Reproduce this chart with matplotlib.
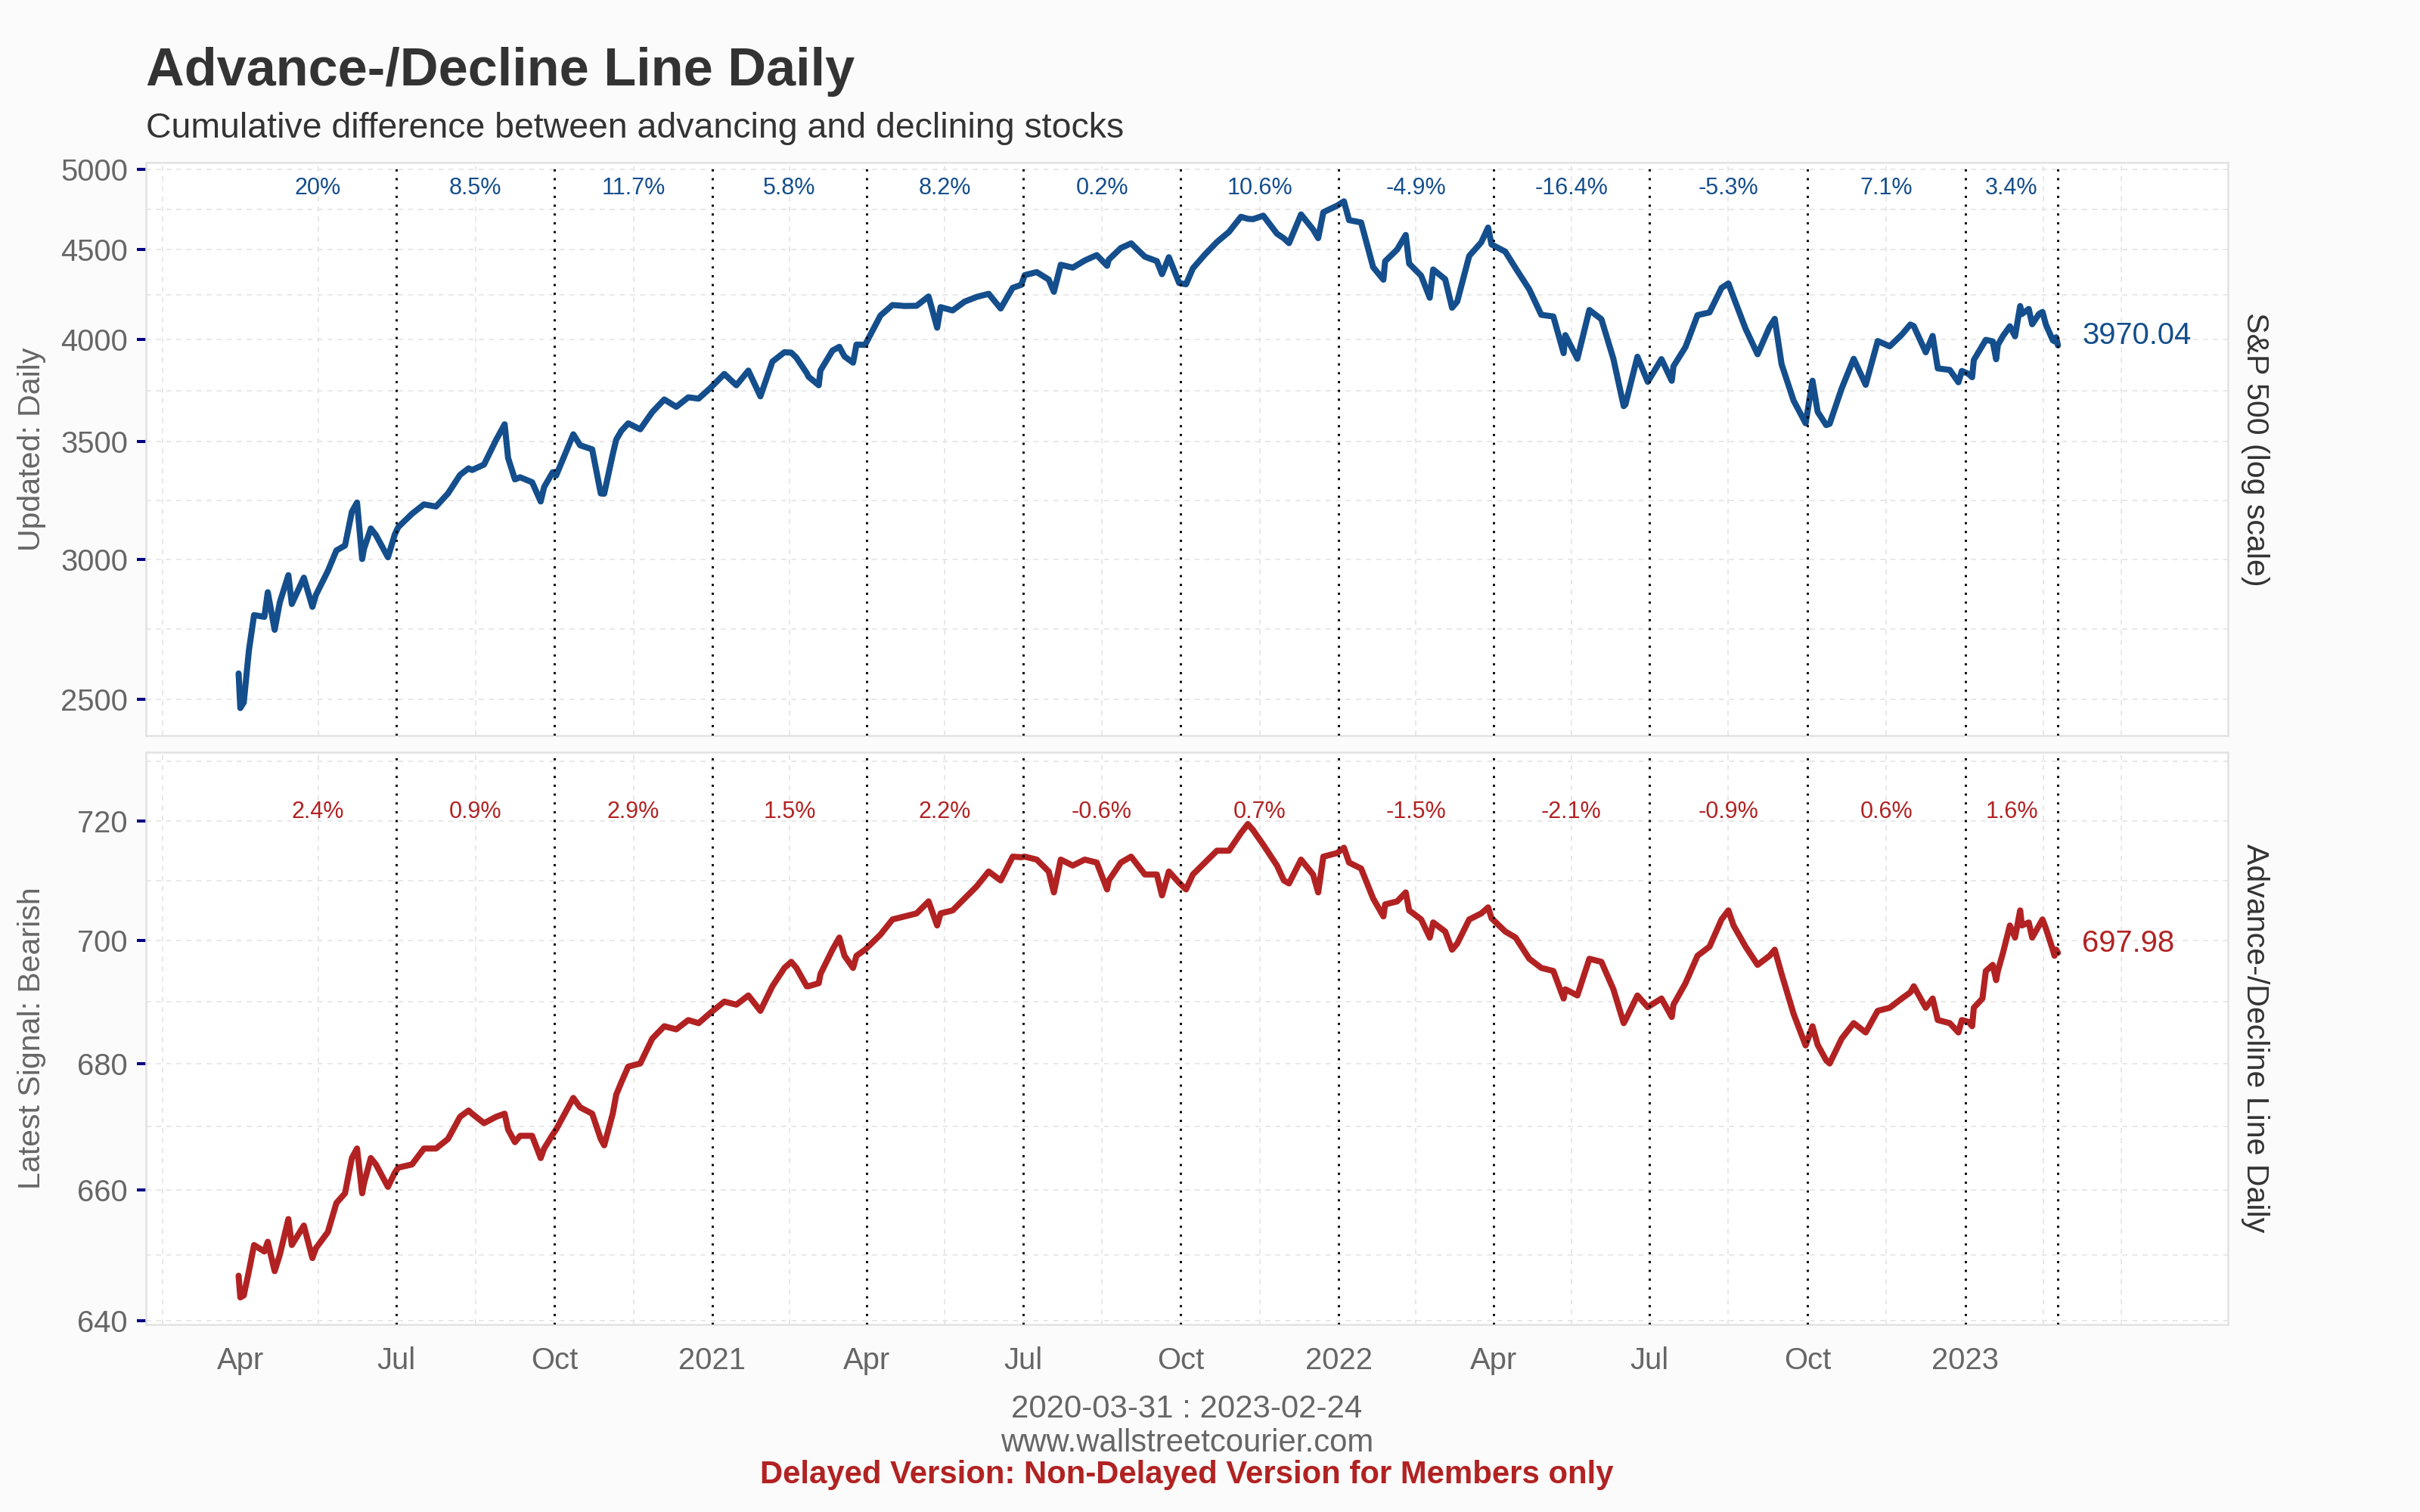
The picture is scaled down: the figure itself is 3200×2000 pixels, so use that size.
import matplotlib
matplotlib.use("Agg")
import matplotlib.pyplot as plt
import matplotlib.dates as mdates
import matplotlib.transforms as mtrans
from matplotlib.ticker import FixedLocator, NullLocator, FixedFormatter
import numpy as np
import pandas as pd

plt.rcParams['font.family'] = ['Liberation Sans', 'DejaVu Sans']

# ---------------- data ----------------
dates = [
    "2020-03-31", "2020-04-01", "2020-04-03", "2020-04-06", "2020-04-09", "2020-04-15", "2020-04-17",
    "2020-04-21", "2020-04-24", "2020-04-29", "2020-05-01", "2020-05-08", "2020-05-13", "2020-05-15",
    "2020-05-22", "2020-05-27", "2020-06-01", "2020-06-05", "2020-06-08", "2020-06-11", "2020-06-12",
    "2020-06-16", "2020-06-19", "2020-06-26", "2020-06-30", "2020-07-02", "2020-07-10", "2020-07-17",
    "2020-07-24", "2020-07-31", "2020-08-07", "2020-08-12", "2020-08-14", "2020-08-21", "2020-08-28",
    "2020-09-02", "2020-09-04", "2020-09-08", "2020-09-11", "2020-09-18", "2020-09-23", "2020-09-25",
    "2020-09-30", "2020-10-02", "2020-10-09", "2020-10-12", "2020-10-16", "2020-10-23", "2020-10-28",
    "2020-10-30", "2020-11-04", "2020-11-06", "2020-11-09", "2020-11-13", "2020-11-20", "2020-11-27",
    "2020-12-04", "2020-12-11", "2020-12-18", "2020-12-24", "2020-12-31",
    "2021-01-08", "2021-01-15", "2021-01-22", "2021-01-29", "2021-02-05", "2021-02-12", "2021-02-16",
    "2021-02-19", "2021-02-25", "2021-02-26", "2021-03-04", "2021-03-05", "2021-03-12", "2021-03-16",
    "2021-03-19", "2021-03-24", "2021-03-26", "2021-03-31", "2021-04-09", "2021-04-16", "2021-04-23",
    "2021-04-30", "2021-05-07", "2021-05-12", "2021-05-14", "2021-05-21", "2021-05-28", "2021-06-04",
    "2021-06-11", "2021-06-18", "2021-06-25", "2021-06-30", "2021-07-02", "2021-07-09", "2021-07-16",
    "2021-07-19", "2021-07-23", "2021-07-30", "2021-08-06", "2021-08-13", "2021-08-19", "2021-08-20",
    "2021-08-27", "2021-09-02", "2021-09-10", "2021-09-17", "2021-09-20", "2021-09-24", "2021-09-30",
    "2021-10-04", "2021-10-08", "2021-10-15", "2021-10-22", "2021-10-29", "2021-11-05", "2021-11-09",
    "2021-11-12", "2021-11-18", "2021-11-26", "2021-11-30", "2021-12-03", "2021-12-10", "2021-12-17",
    "2021-12-20", "2021-12-23", "2021-12-31",
    "2022-01-04", "2022-01-07", "2022-01-14", "2022-01-21", "2022-01-27", "2022-01-28", "2022-02-04",
    "2022-02-09", "2022-02-11", "2022-02-18", "2022-02-23", "2022-02-25", "2022-03-04", "2022-03-08",
    "2022-03-11", "2022-03-18", "2022-03-25", "2022-03-29", "2022-03-31", "2022-04-08", "2022-04-14",
    "2022-04-22", "2022-04-29", "2022-05-06", "2022-05-12", "2022-05-13", "2022-05-20", "2022-05-27",
    "2022-06-03", "2022-06-10", "2022-06-16", "2022-06-17", "2022-06-24", "2022-06-30", "2022-07-08",
    "2022-07-14", "2022-07-15", "2022-07-22", "2022-07-29", "2022-08-05", "2022-08-12", "2022-08-16",
    "2022-08-19", "2022-08-26", "2022-09-02", "2022-09-09", "2022-09-12", "2022-09-16", "2022-09-23",
    "2022-09-30", "2022-10-04", "2022-10-07", "2022-10-12", "2022-10-14", "2022-10-21", "2022-10-28",
    "2022-11-04", "2022-11-11", "2022-11-18", "2022-11-25", "2022-11-30", "2022-12-02", "2022-12-09",
    "2022-12-13", "2022-12-16", "2022-12-23", "2022-12-28", "2022-12-30",
    "2023-01-03", "2023-01-05", "2023-01-06", "2023-01-11", "2023-01-13", "2023-01-17", "2023-01-19",
    "2023-01-20", "2023-01-23", "2023-01-27", "2023-01-30", "2023-02-02", "2023-02-03", "2023-02-07",
    "2023-02-09", "2023-02-13", "2023-02-15", "2023-02-17", "2023-02-21", "2023-02-22", "2023-02-23",
    "2023-02-24",
]

spx = [
    2584.6, 2470.5, 2488.7, 2663.7, 2789.8, 2783.4, 2874.6,
    2736.6, 2836.7, 2939.5, 2830.7, 2929.8, 2820.0, 2863.7,
    2955.5, 3036.1, 3055.7, 3193.9, 3232.4, 3002.1, 3041.3,
    3124.7, 3097.7, 3009.1, 3100.3, 3130.0, 3185.0, 3224.7,
    3215.6, 3271.1, 3351.3, 3380.4, 3372.9, 3397.2, 3508.0,
    3580.8, 3427.0, 3331.8, 3341.0, 3319.5, 3236.9, 3298.5,
    3363.0, 3348.4, 3477.1, 3534.2, 3483.8, 3465.4, 3271.0,
    3270.0, 3443.4, 3509.4, 3550.5, 3585.2, 3557.5, 3638.4,
    3699.1, 3663.5, 3709.4, 3703.1, 3756.1,
    3824.7, 3768.3, 3841.5, 3714.2, 3886.8, 3934.8, 3932.6,
    3906.7, 3829.3, 3811.2, 3768.5, 3841.9, 3943.3, 3962.7,
    3913.1, 3881.4, 3974.5, 3972.9, 4128.8, 4185.5, 4180.2,
    4181.2, 4232.6, 4063.0, 4173.9, 4155.9, 4204.1, 4229.9,
    4247.4, 4166.5, 4280.7, 4297.5, 4352.3, 4369.6, 4327.2,
    4258.5, 4411.8, 4395.3, 4436.5, 4468.0, 4405.8, 4441.7,
    4509.4, 4537.0, 4458.6, 4433.0, 4357.7, 4455.5, 4307.5,
    4300.5, 4391.3, 4471.4, 4544.9, 4605.4, 4697.5, 4685.3,
    4682.9, 4704.5, 4594.6, 4567.0, 4538.4, 4712.0, 4620.6,
    4568.0, 4725.8, 4766.2,
    4793.5, 4677.0, 4662.9, 4397.9, 4326.5, 4431.9, 4500.5,
    4587.2, 4418.6, 4348.9, 4225.5, 4384.7, 4328.9, 4170.7,
    4204.3, 4463.1, 4543.1, 4631.6, 4530.4, 4488.3, 4392.6,
    4271.8, 4131.9, 4123.3, 3930.1, 4023.9, 3901.4, 4158.2,
    4108.5, 3900.9, 3666.8, 3674.8, 3911.7, 3785.4, 3899.4,
    3790.4, 3863.2, 3961.6, 4130.3, 4145.2, 4280.2, 4305.2,
    4228.5, 4057.7, 3924.3, 4067.4, 4110.4, 3873.3, 3693.2,
    3585.6, 3790.9, 3639.7, 3577.0, 3583.1, 3752.8, 3901.1,
    3770.6, 3992.9, 3965.3, 4026.1, 4080.1, 4071.7, 3934.4,
    4019.7, 3852.4, 3844.8, 3783.2, 3839.5,
    3824.1, 3808.1, 3895.1, 3969.6, 3999.1, 3991.0, 3898.9,
    3972.6, 4019.8, 4070.6, 4017.8, 4179.8, 4136.5, 4164.0,
    4081.5, 4137.3, 4147.6, 4079.1, 3997.3, 3991.1, 4012.3,
    3970.04,
]

adl = [
    646.8, 643.5, 643.8, 647.5, 651.5, 650.5, 652.0,
    647.5, 650.0, 655.5, 651.5, 654.5, 649.5, 651.0,
    653.5, 658.0, 659.5, 665.0, 666.5, 659.5, 661.0,
    665.0, 664.0, 660.5, 662.7, 663.5, 664.0, 666.5,
    666.5, 668.0, 671.5, 672.5, 672.0, 670.5, 671.5,
    672.0, 669.5, 667.5, 668.5, 668.5, 665.0, 666.5,
    668.7, 669.5, 673.0, 674.5, 673.0, 672.0, 668.0,
    667.0, 672.0, 675.0, 677.0, 679.5, 680.0, 684.0,
    686.0, 685.5, 687.0, 686.5, 688.2,
    690.0, 689.5, 691.0, 688.5, 692.5, 695.5, 696.5,
    695.5, 692.5, 692.5, 693.0, 694.5, 698.5, 700.5,
    697.5, 695.5, 697.5, 698.5, 701.0, 703.5, 704.0,
    704.5, 706.5, 702.5, 704.5, 705.0, 707.0, 709.0,
    711.5, 710.0, 714.0, 713.9, 714.0, 713.5, 711.5,
    708.0, 713.5, 712.5, 713.5, 713.0, 708.5, 710.0,
    713.0, 714.0, 711.0, 711.0, 707.5, 711.5, 709.6,
    708.5, 711.0, 713.0, 715.0, 715.0, 718.0, 719.5,
    718.5, 716.0, 712.5, 710.0, 709.5, 713.5, 711.0,
    708.0, 714.0, 714.6,
    715.5, 713.0, 712.0, 707.0, 704.0, 706.0, 706.5,
    708.0, 705.0, 703.5, 700.5, 703.0, 701.5, 698.5,
    699.5, 703.5, 704.5, 705.5, 703.7, 701.5, 700.5,
    697.0, 695.5, 695.0, 690.5, 692.0, 691.0, 697.0,
    696.5, 692.0, 686.5, 687.0, 691.0, 689.1, 690.5,
    687.5, 689.5, 693.0, 697.5, 699.0, 703.5, 705.0,
    702.5, 699.0, 696.0, 697.5, 698.5, 694.5, 688.0,
    682.9, 686.0, 683.0, 680.5, 680.0, 684.0, 686.5,
    685.0, 688.5, 689.0, 690.5, 691.5, 692.5, 689.0,
    690.5, 687.0, 686.5, 685.0, 687.0,
    686.7, 686.0, 689.0, 690.5, 695.0, 696.0, 693.5,
    695.0, 698.0, 702.5, 700.5, 705.0, 702.5, 703.0,
    700.5, 702.5, 703.5, 702.0, 698.5, 697.5, 698.5,
    697.98,
]

period_ends = ["2020-07-01", "2020-10-01", "2021-01-01", "2021-04-01", "2021-07-01", "2021-10-01",
               "2022-01-01", "2022-04-01", "2022-07-01", "2022-10-01", "2023-01-01", "2023-02-24"]
spx_returns = ["20%", "8.5%", "11.7%", "5.8%", "8.2%", "0.2%", "10.6%", "-4.9%", "-16.4%", "-5.3%", "7.1%", "3.4%"]
adl_returns = ["2.4%", "0.9%", "2.9%", "1.5%", "2.2%", "-0.6%", "0.7%", "-1.5%", "-2.1%", "-0.9%", "0.6%", "1.6%"]

x_tick_dates = ["2020-04-01", "2020-07-01", "2020-10-01", "2021-01-01", "2021-04-01", "2021-07-01",
                "2021-10-01", "2022-01-01", "2022-04-01", "2022-07-01", "2022-10-01", "2023-01-01"]
x_tick_labels = ["Apr", "Jul", "Oct", "2021", "Apr", "Jul", "Oct", "2022", "Apr", "Jul", "Oct", "2023"]
spx_ticks = [2500, 3000, 3500, 4000, 4500, 5000]
adl_ticks = [640, 660, 680, 700, 720]

# ---------------- style ----------------
BG = "#fbfbfb"
BLUE = "#144e8c"
RED = "#b22222"
GRID = "#e4e4e4"
BORDER = "#e2e2e2"
TICKTXT = "#666666"
DARK = "#333333"

fig = plt.figure(figsize=(16, 10), dpi=200, facecolor=BG)
ax1 = fig.add_axes([0.0603, 0.5135, 0.8603, 0.3792])
ax2 = fig.add_axes([0.0603, 0.1240, 0.8603, 0.3785])

xd = mdates.date2num(pd.to_datetime(dates))
xticks = mdates.date2num(pd.to_datetime(x_tick_dates))
pends = mdates.date2num(pd.to_datetime(period_ends))
pstarts = np.concatenate([[xd[0]], pends[:-1]])
pmids = (pstarts + pends) / 2

step = xticks[1] - xticks[0]
ext = np.concatenate([[xticks[0] - step], xticks, [xticks[-1] + 91]])
vgrid = list((ext[:-1] + ext[1:]) / 2) + [ext[-1]]

xlim = mdates.date2num(pd.to_datetime(["2020-02-06", "2023-06-03"]))

panels = [
    (ax1, spx, BLUE, spx_ticks, (2383, 5045), spx_returns, 0.955, "Updated: Daily", "S&P 500 (log scale)"),
    (ax2, adl, RED, adl_ticks, (639.4, 731.8), adl_returns, 0.895, "Latest Signal: Bearish", "Advance-/Decline Line Daily"),
]

for ax, vals, col, ticks, ylim, rets, ylab, leftlab, rightlab in panels:
    ax.set_facecolor("white")
    ax.set_yscale("log")
    ax.set_ylim(*ylim)
    ax.set_xlim(*xlim)
    ax.yaxis.set_major_locator(FixedLocator(ticks))
    ax.yaxis.set_minor_locator(NullLocator())
    ax.yaxis.set_major_formatter(FixedFormatter([str(t) for t in ticks]))
    ax.xaxis.set_major_locator(FixedLocator(xticks))
    ax.xaxis.set_minor_locator(NullLocator())
    ax.xaxis.set_major_formatter(FixedFormatter(x_tick_labels))

    # grid: horizontal majors + log-midpoint minors, vertical minors
    lt = np.log(ticks)
    d = lt[1] - lt[0]
    lext = np.concatenate([[lt[0] - d], lt, [lt[-1] + (lt[-1] - lt[-2])]])
    hminor = np.exp((lext[:-1] + lext[1:]) / 2)
    for yv in list(ticks) + list(hminor):
        ax.axhline(yv, color=GRID, lw=0.6, linestyle=(0, (4, 4)), zorder=1)
    for xv in vgrid:
        ax.axvline(xv, color=GRID, lw=0.6, linestyle=(0, (4, 4)), zorder=1)

    for sp in ax.spines.values():
        sp.set_color(BORDER)
        sp.set_linewidth(0.9)

    ax.plot(xd, vals, color=col, lw=2.9, solid_joinstyle="round", solid_capstyle="round", zorder=3)

    for xv in pends:
        ax.axvline(xv, color="black", lw=1.05, linestyle=(0, (1, 3)), zorder=4)

    tr = mtrans.blended_transform_factory(ax.transData, ax.transAxes)
    for xm, t in zip(pmids, rets):
        ax.text(xm, ylab, t, transform=tr, ha="center", va="center", fontsize=11, color=col, zorder=5)

    ax.annotate(f"{vals[-1]:.2f}", xy=(xd[-1] + 14, vals[-1]), xytext=(0, 4.6),
                textcoords="offset points", ha="left", va="center", fontsize=14.4, color=col, zorder=5)

    ax.tick_params(axis="y", which="major", length=4.3, width=1.44, color="#000080",
                   labelcolor=TICKTXT, labelsize=14.4, pad=4.3, direction="out")
    ax.tick_params(axis="x", which="major", length=0, labelcolor=TICKTXT, labelsize=14.4, pad=10.5)

    bb = ax.get_position()
    cy = bb.y0 + bb.height / 2
    fig.text(0.0131, cy, leftlab, rotation=90, ha="center", va="center", fontsize=14.8, color=TICKTXT)
    fig.text(0.9318, cy, rightlab, rotation=270, ha="center", va="center", fontsize=14.8, color=DARK)

ax1.tick_params(axis="x", labelbottom=False)

fig.text(0.0603, 0.9437, "Advance-/Decline Line Daily", fontsize=25.3, fontweight="bold",
         color=DARK, ha="left", va="baseline")
fig.text(0.0603, 0.9089, "Cumulative difference between advancing and declining stocks", fontsize=16.7,
         color=DARK, ha="left", va="baseline")

fig.text(0.4905, 0.0625, f"{dates[0]} : {dates[-1]}", fontsize=15.1, color=TICKTXT, ha="center", va="baseline")
fig.text(0.4905, 0.0400, "www.wallstreetcourier.com", fontsize=15.1, color=TICKTXT, ha="center", va="baseline")
fig.text(0.4905, 0.0192, "Delayed Version: Non-Delayed Version for Members only", fontsize=15.1,
         fontweight="bold", color=RED, ha="center", va="baseline")

fig.savefig("out.png", dpi=200, facecolor=BG)
